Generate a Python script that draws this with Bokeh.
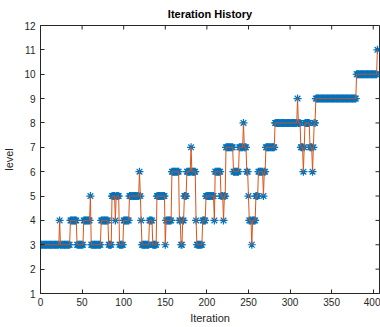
import math
from bokeh.plotting import figure
from bokeh.models import Range1d, FixedTicker, ColumnDataSource
from bokeh.embed import file_html
from bokeh.resources import INLINE

# Run-length description of the level history (level, number of iterations)
run_levels = [3, 4, 3, 4, 3, 4, 5, 3, 4, 3, 5, 4, 5, 3, 4, 5, 6, 5, 4, 3,
              4, 3, 5, 3, 4, 6, 4, 3, 4, 5, 6, 7, 6, 4, 3, 4, 5, 4, 6, 5,
              4, 5, 7, 6, 7, 8, 7, 6, 5, 4, 3, 4, 5, 6, 5, 6, 7, 8, 9, 8,
              7, 6, 7, 8, 7, 6, 7, 8, 9, 10, 11]
run_lengths = [23, 1, 12, 8, 8, 8, 1, 12, 9, 4, 4, 1, 4, 5, 7, 12, 1, 1, 1, 9,
               4, 5, 10, 1, 7, 9, 2, 2, 2, 3, 5, 1, 5, 1, 7, 4, 10, 1, 7, 3,
               1, 2, 9, 7, 5, 1, 3, 2, 1, 3, 1, 4, 3, 6, 1, 2, 11, 27, 1, 3,
               3, 1, 1, 6, 3, 1, 1, 2, 49, 25, 1]

levels = []
for lv, n in zip(run_levels, run_lengths):
    levels.extend([lv] * n)
iterations = list(range(len(levels)))

x_ticks = [0, 50, 100, 150, 200, 250, 300, 350, 400]
y_ticks = [1, 2, 3, 4, 5, 6, 7, 8, 9, 10, 11, 12]
x_lim = (0, 407.5)
y_lim = (1, 12)

src = ColumnDataSource(dict(x=iterations, y=levels))

FONT = "Liberation Sans"
AX = "#262626"

p = figure(width=380, height=327, output_backend="svg", toolbar_location=None,
           x_range=Range1d(*x_lim), y_range=Range1d(*y_lim),
           title="Iteration History")
p.title.align = "center"
p.title.text_font = FONT
p.title.text_font_size = "11px"
p.title.text_font_style = "bold"
p.title.text_color = "#000000"
p.title.offset = 0
p.title.vertical_align = "middle"
p.xgrid.visible = False
p.ygrid.visible = False
p.outline_line_color = AX
p.outline_line_width = 1
p.background_fill_color = "white"
p.border_fill_color = "white"
p.min_border_left = 39
p.min_border_right = 1
p.min_border_top = 25
p.min_border_bottom = 34


def style_axis(ax, ticks):
    ax.ticker = FixedTicker(ticks=ticks)
    ax.major_tick_in = 4
    ax.major_tick_out = 0
    ax.minor_tick_line_color = None
    ax.axis_line_color = AX
    ax.major_tick_line_color = AX
    ax.major_label_text_color = AX
    ax.major_label_text_font = FONT
    ax.major_label_text_font_size = "10px"
    ax.axis_label_text_font = FONT
    ax.axis_label_text_font_size = "11px"
    ax.axis_label_text_font_style = "normal"
    ax.axis_label_text_color = AX


style_axis(p.xaxis[0], x_ticks)
style_axis(p.yaxis[0], y_ticks)
p.xaxis[0].axis_label = "Iteration"
p.yaxis[0].axis_label = "level"
p.xaxis[0].major_label_standoff = 4
p.xaxis[0].axis_label_standoff = 3
p.yaxis[0].major_label_standoff = 5
p.yaxis[0].axis_label_standoff = 6

# inward ticks on the top and right edges of the box (clipped to the frame)
p.scatter(x=x_ticks, y=[y_lim[1]] * len(x_ticks), marker="dash", angle=math.pi / 2,
          size=8, line_color=AX, line_width=1)
p.scatter(x=[x_lim[1]] * len(y_ticks), y=y_ticks, marker="dash",
          size=8, line_color=AX, line_width=1)

p.scatter("x", "y", source=src, marker="asterisk", size=8,
          line_color="#0072BD", line_width=1.2)
p.line("x", "y", source=src, line_color="#D95319", line_width=1.0)

open("out.html", "w").write(file_html(p, INLINE))
